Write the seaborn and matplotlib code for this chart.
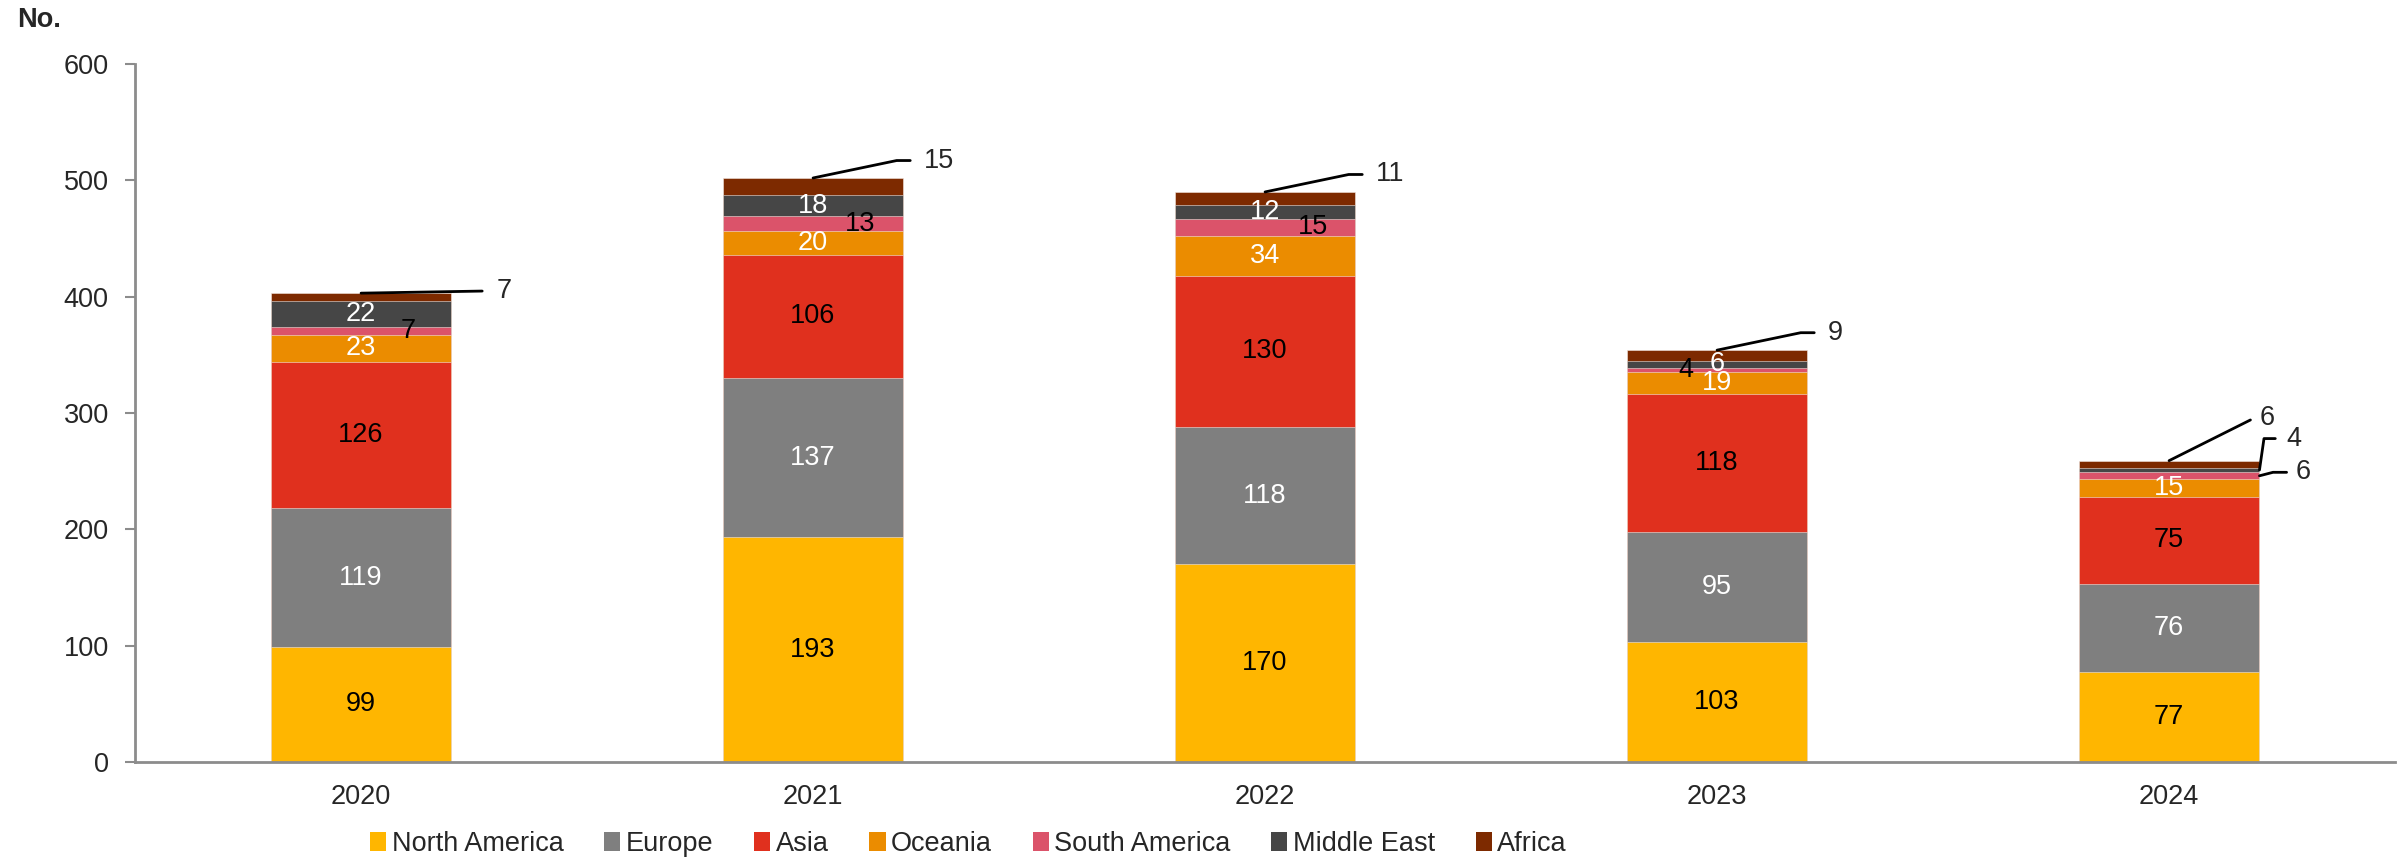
import pandas as pd
import matplotlib.pyplot as plt
from matplotlib.patches import Patch
import seaborn as sns

years = ["2020", "2021", "2022", "2023", "2024"]
regions = ["North America", "Europe", "Asia", "Oceania", "South America", "Middle East", "Africa"]
north_america = [99, 193, 170, 103, 77]
europe = [119, 137, 118, 95, 76]
asia = [126, 106, 130, 118, 75]
oceania = [23, 20, 34, 19, 15]
south_america = [7, 13, 15, 4, 6]
middle_east = [22, 18, 12, 6, 4]
africa = [7, 15, 11, 9, 6]

colors = ["#FFB600", "#7F7F7F", "#E0301E", "#EB8C00", "#DB536A", "#464646", "#7D2A00"]
text_colors = ["black", "white", "black", "white", "black", "white", "black"]

df = pd.DataFrame({"year": years, "North America": north_america, "Europe": europe,
                   "Asia": asia, "Oceania": oceania, "South America": south_america,
                   "Middle East": middle_east, "Africa": africa})
cum = df[regions].cumsum(axis=1)

sns.set_style("white")
plt.rcParams['font.family'] = ['Liberation Sans', 'DejaVu Sans']

fig = plt.figure(figsize=(24.03, 8.61), dpi=100)
ax = fig.add_axes([0.0562, 0.115, 0.9405, 0.8107])

# draw the stack top-down so each layer covers the one above
for i in range(len(regions) - 1, -1, -1):
    sns.barplot(x=df["year"], y=cum[regions[i]], color=colors[i], saturation=1,
                width=0.4, errorbar=None, ax=ax, edgecolor="#F2E6E0", linewidth=0.4)

fs = 19.5
# labels inside segments
for j in range(len(years)):
    for i, r in enumerate(regions):
        v = df[r][j]
        mid = cum[r][j] - v / 2
        if r == "Africa":
            continue
        if r == "South America":
            if j == 4:
                continue
            dx = -0.07 if j == 3 else 0.105
            ax.text(j + dx, mid, str(v), ha="center", va="center", fontsize=fs, color="black")
            continue
        if r == "Middle East" and j == 4:
            continue
        ax.text(j, mid, str(v), ha="center", va="center", fontsize=fs, color=text_colors[i])

# callouts for Africa
lw = 2
for j in range(4):
    top = cum["Africa"][j]
    v = africa[j]
    if j == 0:
        ax.plot([j, j + 0.268], [top, top + 1.8], color="black", lw=lw)
        ax.text(j + 0.3, top + 2, str(v), ha="left", va="center", fontsize=fs)
    else:
        ax.plot([j, j + 0.185, j + 0.215], [top, top + 15, top + 15], color="black", lw=lw)
        ax.text(j + 0.245, top + 15, str(v), ha="left", va="center", fontsize=fs)

top = cum["Africa"][4]
ax.plot([4, 4.18], [top, top + 35], color="black", lw=lw)
ax.text(4.2, top + 37, str(africa[4]), ha="left", va="center", fontsize=fs)
me_mid = cum["Middle East"][4] - middle_east[4] / 2
ax.plot([4.2, 4.21, 4.235], [me_mid, me_mid + 27, me_mid + 27], color="black", lw=lw)
ax.text(4.26, me_mid + 27, str(middle_east[4]), ha="left", va="center", fontsize=fs)
sa_mid = cum["South America"][4] - south_america[4] / 2
ax.plot([4.2, 4.23, 4.26], [sa_mid, sa_mid + 3, sa_mid + 3], color="black", lw=lw)
ax.text(4.28, sa_mid + 3, str(south_america[4]), ha="left", va="center", fontsize=fs)

ax.set_xlim(-0.5, 4.5)
ax.set_ylim(0, 600)
ax.set_yticks(range(0, 601, 100))
ax.set_xlabel("")
ax.set_ylabel("")
for s in ["top", "right"]:
    ax.spines[s].set_visible(False)
for s in ["left", "bottom"]:
    ax.spines[s].set_color("#8C8C8C")
    ax.spines[s].set_linewidth(2)
ax.tick_params(axis="y", length=7, width=1.5, color="#8C8C8C", labelsize=fs, pad=12, left=True)
ax.tick_params(axis="x", length=0, labelsize=fs, pad=16)

fig.text(0.007, 0.977, "No.", fontsize=fs, fontweight="bold", va="center", ha="left")

handles = [Patch(facecolor=c, edgecolor="none") for c in colors]
fig.legend(handles, regions, loc="center", bbox_to_anchor=(0.403, 0.02), ncol=7,
           frameon=False, fontsize=fs, handlelength=0.6, handleheight=0.7,
           handletextpad=0.2, columnspacing=1.5)

fig.savefig("out.png", dpi=100)
